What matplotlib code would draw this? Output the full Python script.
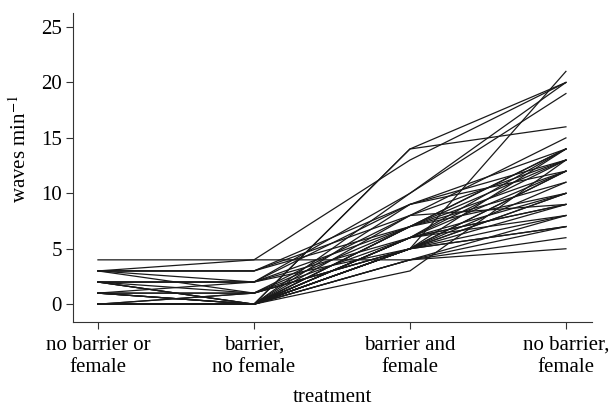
import matplotlib
matplotlib.use("Agg")
import matplotlib.pyplot as plt

# treatments on the x axis
treatments = ["no barrier or\nfemale", "barrier,\nno female", "barrier and\nfemale", "no barrier,\nfemale"]

# waves per minute for each male, one value per treatment
no_barrier_no_female = [4, 3, 3, 3, 3, 3, 3, 2, 2, 2, 2, 2, 2, 2, 1, 1, 1, 1, 1, 1, 1,
                        0, 0, 0, 0, 0, 0, 0, 0, 0, 0, 0, 0, 0, 0, 0, 0, 0, 0, 0]
barrier_no_female = [4, 4, 3, 3, 3, 2, 1, 2, 2, 2, 1, 0, 0, 0, 2, 1, 1, 0, 0, 0, 0,
                     0, 0, 0, 0, 0, 0, 0, 0, 0, 0, 0, 0, 0, 0, 0, 1, 1, 0, 0]
barrier_female = [4, 13, 8, 9, 7, 10, 6, 5, 9, 7, 5, 6, 5, 4, 6, 7, 5, 6, 5, 7, 4,
                  5, 14, 3, 5, 8, 5, 6, 7, 5, 6, 4, 5, 7, 9, 6, 5, 8, 10, 14]
no_barrier_female = [5, 20, 9, 14, 12, 19, 10, 8, 13, 14, 12, 9, 10, 8, 13, 11, 7, 12, 9, 13, 6,
                     14, 16, 13, 21, 15, 7, 8, 10, 12, 9, 7, 11, 14, 12, 14, 10, 13, 20, 20]

plt.rcParams['font.family'] = ['Liberation Serif', 'DejaVu Serif']
plt.rcParams['mathtext.fontset'] = 'stix'

fig = plt.figure(figsize=(6.16, 4.07), dpi=100)
ax = fig.add_axes([0.1185, 0.209, 0.8425, 0.760])

xs = range(len(treatments))
for i in range(len(no_barrier_no_female)):
    ys = [no_barrier_no_female[i], barrier_no_female[i], barrier_female[i], no_barrier_female[i]]
    ax.plot(xs, ys, color='#1a1a1a', lw=0.9)

ax.set_xlim(-0.16, 3.167)
ax.set_ylim(-1.6, 26.3)
ax.set_yticks([0, 5, 10, 15, 20, 25])
ax.set_xticks(list(xs))
ax.set_xticklabels(treatments, linespacing=1.25)
ax.tick_params(labelsize=15, length=5, width=0.8, color='#333333', pad=3)
ax.tick_params(axis='x', pad=5)
for s in ['top', 'right']:
    ax.spines[s].set_visible(False)
for s in ['left', 'bottom']:
    ax.spines[s].set_linewidth(0.8)
    ax.spines[s].set_color('#333333')

ax.set_xlabel("treatment", fontsize=15, labelpad=8)
ax.set_ylabel("waves min$^{-1}$", fontsize=15)
ax.yaxis.set_label_coords(-0.08, 0.56)

fig.savefig("out.png", dpi=100)
